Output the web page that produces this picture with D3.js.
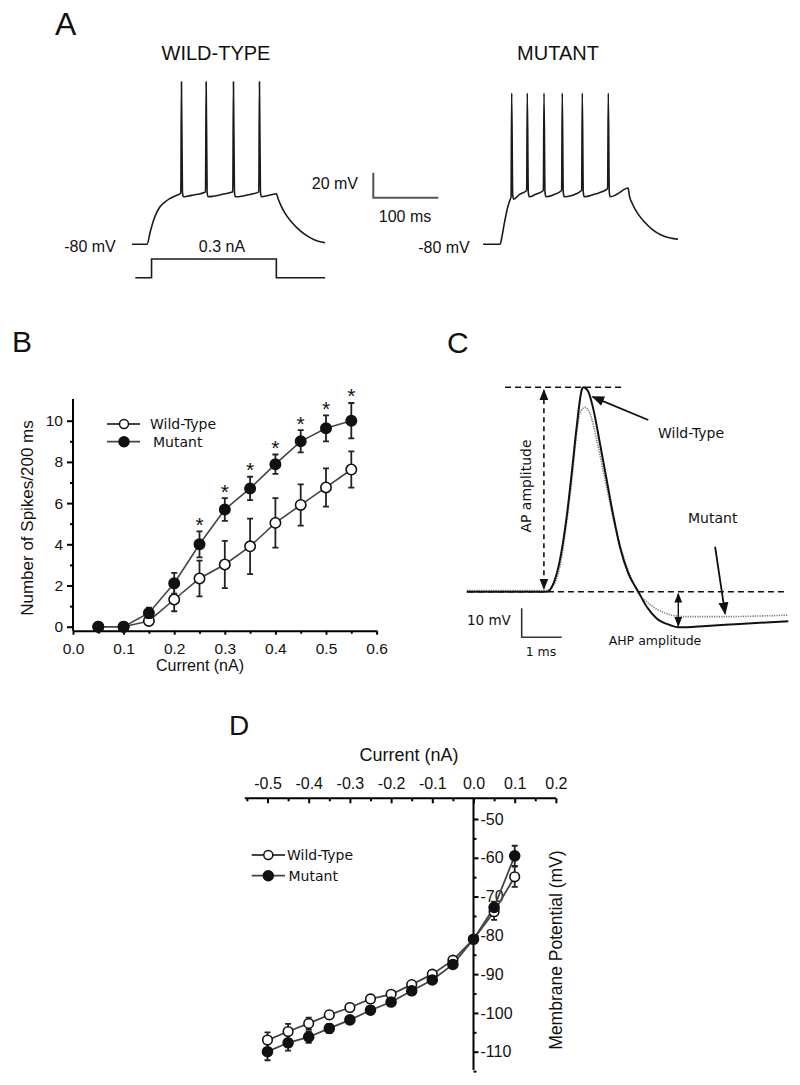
<!DOCTYPE html>
<html><head><meta charset="utf-8">
<script src="https://cdn.jsdelivr.net/npm/d3@7/dist/d3.min.js"></script>
<style>
body{margin:0;background:#fff;}
svg{display:block;}
text{font-family:"Liberation Sans",Arial,Helvetica,sans-serif;fill:#111;}
.tah{font-family:"DejaVu Sans",Verdana,sans-serif;}
</style></head><body>
<svg id="fig" width="800" height="1085" viewBox="0 0 800 1085"></svg>
<script>
// ---------------- DATA ----------------
// Panel A: membrane potential traces [time ms, mV] (step onset = 0 ms)
const wtTrace = [[-23,-80],[0,-80],[5,-70],[10,-61],[15,-54.5],[20,-50],[28,-46],[35,-43.5],[45,-41],[52,-39],
  [53,50],[54.5,-38],[56,-42],[62,-41.5],[72,-40.5],[82,-39.5],[90,-38],
  [91,50],[92.5,-38],[94,-42],[102,-41.5],[116,-40],[132,-38],
  [133,50],[134.5,-38],[136,-42],[146,-41.5],[160,-40],[172,-38],
  [173,50],[174.5,-38],[176,-42],[186,-41],[195,-40],[199,-39.5],
  [202,-44],[207,-50],[214,-56.5],[222,-62],[232,-67.5],[244,-72.5],[258,-76.5],[274,-78.8]];
const mutTrace = [[-26,-80],[0,-80],[3,-74],[6,-65],[9,-57],[12,-50],[15,-45],[17,-42],
  [18,41],[19.5,-40],[21,-44],[30,-40],[41,-37],
  [42,41],[43.5,-38],[45,-42],[55,-40],[66.7,-37],
  [67.7,41],[69.2,-38],[70.7,-42],[82,-40.5],[94.8,-37],
  [95.8,41],[97.3,-38],[98.8,-42],[110,-41],[125.6,-37],
  [126.6,41],[128.1,-38],[129.6,-42],[145,-40],[165.6,-35.5],
  [166.6,41],[168.1,-38],[169.6,-42],[180,-40],[197,-35],
  [199,-41],[204,-48],[212,-55.5],[222,-62],[234,-68],[248,-72.5],[262,-75],[274,-76]];
const stimTime = [-18,7,7,199,199,274];
const stimCurrent = [0,0,0.3,0.3,0,0];

// Panel B: spikes vs current
const currentB = [0.05,0.1,0.15,0.2,0.25,0.3,0.35,0.4,0.45,0.5,0.55];
const wtSpikes = [0,0,0.28,1.32,2.34,3.02,3.9,5.04,5.91,6.76,7.63];
const wtSpikesErr = [0,0,0.12,0.57,0.87,1.15,1.35,1.2,1.0,0.93,0.88];
const mutSpikes = [0,0,0.67,2.11,4.0,5.69,6.71,7.89,9.0,9.63,10.0];
const mutSpikesErr = [0,0,0.25,0.5,0.63,0.55,0.57,0.47,0.54,0.63,0.86];
const significantB = [false,false,false,false,true,true,true,true,true,true,true];
const xTicksB = [0,0.1,0.2,0.3,0.4,0.5,0.6];
const yTicksB = [0,2,4,6,8,10];

// Panel C: single action potentials [time ms, mV relative to threshold]
const wtAP = [[-2,0],[0,0],[0.17,2.9],[0.33,10.9],[0.5,25.9],[0.625,40.8],[0.75,56.9],[0.875,69.5],[0.92,70.5],[0.97,70.2],
  [1.04,69],[1.17,62.7],[1.33,51.2],[1.5,38.5],[1.67,25.9],[1.83,15.5],[2.04,6.3],[2.29,0],[2.5,-5.2],[2.75,-9.2],
  [3.08,-11.5],[3.29,-12.3],[4.0,-11.8],[4.83,-11.1],[6.04,-10.2]];
const mutAP = [[-2,0.4],[0,0.4],[0.2,2.9],[0.35,10],[0.5,24],[0.625,38],[0.75,54.6],[0.83,61.5],[0.96,63.6],[1.08,61.5],
  [1.25,52.3],[1.46,38.5],[1.67,24.7],[1.92,12.1],[2.17,2.9],[2.27,0],[2.5,-3.5],[2.75,-6],[2.95,-7.3],[3.2,-8.3],
  [3.5,-8.6],[4.5,-8.6],[5.5,-8.3],[6.04,-8.1]];

// Panel D: I-V relation
const currentD = [-0.5,-0.45,-0.4,-0.35,-0.3,-0.25,-0.2,-0.15,-0.1,-0.05,0,0.05,0.1];
const wtVm = [-107,-104.8,-102.7,-100.5,-98.6,-96.4,-95.2,-92.7,-90,-86.4,-81,-73.9,-64.9];
const wtVmErr = [2,2,1.5,1,1,1,0.8,0.8,0.8,0.8,0.8,2.1,2.6];
const mutVm = [-110,-107.7,-106.2,-104,-101.8,-99.3,-97.2,-94.3,-91.5,-87.5,-81,-72.8,-59.5];
const mutVmErr = [2.2,2,1.5,1.2,1,1,0.8,0.8,0.8,0.8,0.8,1.5,2.6];
const xTicksD = [-0.5,-0.4,-0.3,-0.2,-0.1,0,0.1,0.2];
const yTicksD = [-50,-60,-70,-80,-90,-100,-110];

// ---------------- DRAW ----------------
const svg = d3.select("#fig");
const defs = svg.append("defs");
function mk(id, color){
  defs.append("marker").attr("id",id).attr("viewBox","0 0 10 10").attr("refX",9).attr("refY",5)
    .attr("markerWidth",7).attr("markerHeight",7).attr("orient","auto-start-reverse")
    .append("path").attr("d","M0,1 L10,5 L0,9 z").attr("fill",color);
}
mk("arr","#111");

function letter(t,x,y,size){ svg.append("text").attr("x",x).attr("y",y).attr("font-size",size).text(t); }
letter("A",55,35,32); letter("B",12,352,30); letter("C",447,353,30); letter("D",229,735,28);

// ===== Panel A =====
const yA = d3.scaleLinear().domain([-80,-60]).range([244.3,219.3]);
const xAwt = d3.scaleLinear().domain([0,100]).range([147,212]);
const xAmut = d3.scaleLinear().domain([0,100]).range([500,565]);
const yStim = d3.scaleLinear().domain([0,0.3]).range([277.7,259]);
const gA = svg.append("g");
function trace(data,xs){
  gA.append("path").attr("d", d3.line().x(d=>xs(d[0])).y(d=>yA(d[1])).curve(d3.curveMonotoneX)(data))
    .attr("fill","none").attr("stroke","#1a1a1a").attr("stroke-width",1.6).attr("stroke-linejoin","round");
}
trace(wtTrace,xAwt); trace(mutTrace,xAmut);
gA.append("path").attr("d", d3.line().x((d,i)=>xAwt(stimTime[i])).y(d=>yStim(d))(stimCurrent))
  .attr("fill","none").attr("stroke","#1a1a1a").attr("stroke-width",1.6);
gA.append("text").attr("x",216).attr("y",60).attr("text-anchor","middle").attr("font-size",20).text("WILD-TYPE");
gA.append("text").attr("x",558).attr("y",60).attr("text-anchor","middle").attr("font-size",20).text("MUTANT");
gA.append("text").attr("x",90).attr("y",252).attr("text-anchor","middle").attr("font-size",16).text("-80 mV");
gA.append("text").attr("x",444).attr("y",253).attr("text-anchor","middle").attr("font-size",16).text("-80 mV");
gA.append("text").attr("x",222).attr("y",252).attr("text-anchor","middle").attr("font-size",16).text("0.3 nA");
// scale bar 20 mV / 100 ms
const sbx = 373.3, sby = 197.7;
gA.append("path").attr("d",`M${sbx},${sby-(yA(-80)-yA(-60))} L${sbx},${sby} L${sbx+(xAwt(100)-xAwt(0))},${sby}`)
  .attr("fill","none").attr("stroke","#555").attr("stroke-width",2);
gA.append("text").attr("x",358).attr("y",189).attr("text-anchor","end").attr("font-size",16).text("20 mV");
gA.append("text").attr("x",405).attr("y",222).attr("text-anchor","middle").attr("font-size",16).text("100 ms");

// ===== Panel B =====
const xB = d3.scaleLinear().domain([0,0.6]).range([73,376.6]);
const yB = d3.scaleLinear().domain([0,10]).range([626.7,420.7]);
const gB = svg.append("g");
const axY = 630.7;
const xAxB = gB.append("g").attr("transform",`translate(0,${axY})`)
  .call(d3.axisBottom(xB).tickValues(xTicksB).tickFormat(d=>d.toFixed(1)).tickSize(4).tickSizeOuter(0).tickPadding(8));
xAxB.selectAll("text").attr("font-size",15.5).attr("font-family","Liberation Sans, Arial");
gB.append("g").attr("transform",`translate(0,${axY})`)
  .call(d3.axisBottom(xB).tickValues(xTicksB.slice(0,-1).map(v=>v+0.05)).tickFormat("").tickSize(3).tickSizeOuter(0))
  .select(".domain").remove();
const yAxB = gB.append("g").attr("transform","translate(73,0)")
  .call(d3.axisLeft(yB).tickValues(yTicksB).tickSize(6).tickPadding(4));
yAxB.select(".domain").remove();
yAxB.selectAll("text").attr("font-size",15.5).attr("font-family","Liberation Sans, Arial");
gB.append("g").attr("transform","translate(73,0)")
  .call(d3.axisLeft(yB).tickValues([1,3,5,7,9]).tickFormat("").tickSize(3)).select(".domain").remove();
gB.append("line").attr("x1",73).attr("x2",73).attr("y1",axY).attr("y2",yB(11.05)).attr("stroke","#000");
gB.selectAll(".domain, .tick line").attr("stroke","#000").attr("stroke-width",2);
gB.selectAll("line").attr("stroke-width",2);
gB.append("text").attr("x",200).attr("y",671).attr("text-anchor","middle").attr("font-size",16).text("Current (nA)");
gB.append("text").attr("transform","translate(33,518) rotate(-90)").attr("text-anchor","middle").attr("font-size",17).text("Number of Spikes/200 ms");

const lineB = (ys)=> d3.line().x((d,i)=>xB(currentB[i])).y(d=>yB(d))(ys);
gB.append("path").attr("d",lineB(wtSpikes)).attr("fill","none").attr("stroke","#444").attr("stroke-width",1.6);
gB.append("path").attr("d",lineB(mutSpikes)).attr("fill","none").attr("stroke","#444").attr("stroke-width",1.6);
function errBars(g,xs,ys,vals,errs,xv,cap){
  vals.forEach((v,i)=>{
    if(errs[i]<=0) return;
    const x=xs(xv[i]), y1=ys(v-errs[i]), y2=ys(v+errs[i]);
    g.append("path").attr("d",`M${x},${y1}L${x},${y2}M${x-cap},${y1}L${x+cap},${y1}M${x-cap},${y2}L${x+cap},${y2}`)
      .attr("stroke","#222").attr("stroke-width",1.8).attr("fill","none");
  });
}
function dots(g,xs,ys,vals,xv,filled,r){
  g.selectAll(null).data(vals).enter().append("circle")
    .attr("cx",(d,i)=>xs(xv[i])).attr("cy",d=>ys(d)).attr("r",r)
    .attr("fill",filled?"#111":"#fff").attr("stroke","#111").attr("stroke-width",1.6);
}
errBars(gB,xB,yB,wtSpikes,wtSpikesErr,currentB,3);
dots(gB,xB,yB,wtSpikes,currentB,false,5.2);
errBars(gB,xB,yB,mutSpikes,mutSpikesErr,currentB,3);
dots(gB,xB,yB,mutSpikes,currentB,true,5.2);
const sigIdx = currentB.map((c,i)=>i).filter(i=>significantB[i]);
gB.selectAll(null).data(sigIdx).enter().append("text")
  .attr("x",k=>xB(currentB[k])).attr("y",k=>yB(mutSpikes[k]+mutSpikesErr[k])+0.5)
  .attr("text-anchor","middle").attr("font-size",21).text("*");
// legend B
[[424,false,"Wild-Type",150],[441.7,true,"Mutant",153]].forEach(([y,f,t,tx])=>{
  gB.append("line").attr("x1",107).attr("x2",140).attr("y1",y).attr("y2",y).attr("stroke","#444").attr("stroke-width",1.8);
  gB.append("circle").attr("cx",124).attr("cy",y).attr("r",f?5:4.5).attr("fill",f?"#111":"#fff").attr("stroke","#111").attr("stroke-width",1.5);
  gB.append("text").attr("class","tah").attr("x",tx).attr("y",y+5).attr("font-size",14).text(t);
});

// ===== Panel C =====
const xC = d3.scaleLinear().domain([0,1]).range([546.7,586.7]);
const yC = d3.scaleLinear().domain([0,10]).range([591.7,562.7]);
const gC = svg.append("g");
const lineC = d3.line().x(d=>xC(d[0])).y(d=>yC(d[1])).curve(d3.curveMonotoneX);
gC.append("path").attr("d",lineC(mutAP)).attr("fill","none").attr("stroke","#777").attr("stroke-width",1.6).attr("stroke-dasharray","1.2,1.2");
gC.append("path").attr("d",lineC(wtAP)).attr("fill","none").attr("stroke","#111").attr("stroke-width",2);
gC.append("line").attr("x1",xC(-1.04)).attr("x2",xC(1.87)).attr("y1",yC(70.5)).attr("y2",yC(70.5))
  .attr("stroke","#111").attr("stroke-width",1.6).attr("stroke-dasharray","6,4");
gC.append("line").attr("x1",xC(-1.97)).attr("x2",xC(5.96)).attr("y1",yC(0)).attr("y2",yC(0))
  .attr("stroke","#111").attr("stroke-width",1.6).attr("stroke-dasharray","6,4");
gC.append("line").attr("x1",xC(-0.07)).attr("x2",xC(-0.07)).attr("y1",yC(69.5)).attr("y2",yC(1))
  .attr("stroke","#111").attr("stroke-width",1.6).attr("stroke-dasharray","5,4")
  .attr("marker-start","url(#arr)").attr("marker-end","url(#arr)");
gC.append("line").attr("x1",xC(3.29)).attr("x2",xC(3.29)).attr("y1",yC(-0.7)).attr("y2",yC(-11.8))
  .attr("stroke","#111").attr("stroke-width",1.4).attr("marker-start","url(#arr)").attr("marker-end","url(#arr)");
gC.append("line").attr("x1",xC(2.54)).attr("y1",yC(59.2)).attr("x2",xC(1.15)).attr("y2",yC(67.2))
  .attr("stroke","#111").attr("stroke-width",1.8).attr("marker-end","url(#arr)");
gC.append("line").attr("x1",xC(4.21)).attr("y1",yC(15.5)).attr("x2",xC(4.46)).attr("y2",yC(-7.6))
  .attr("stroke","#111").attr("stroke-width",1.8).attr("marker-end","url(#arr)");
const cbx = 521.7, cby = 637.3;
gC.append("path").attr("d",`M${cbx},${cby-(yC(0)-yC(10))} L${cbx},${cby} L${cbx+(xC(1)-xC(0))},${cby}`)
  .attr("fill","none").attr("stroke","#333").attr("stroke-width",1.6);
gC.append("text").attr("class","tah").attr("x",467).attr("y",625).attr("font-size",13.5).text("10 mV");
gC.append("text").attr("class","tah").attr("x",541).attr("y",656).attr("text-anchor","middle").attr("font-size",12.5).text("1 ms");
gC.append("text").attr("class","tah").attr("x",655).attr("y",645).attr("text-anchor","middle").attr("font-size",12.5).text("AHP amplitude");
gC.append("text").attr("class","tah").attr("x",658).attr("y",438).attr("font-size",14).text("Wild-Type");
gC.append("text").attr("class","tah").attr("x",688).attr("y",523).attr("font-size",14).text("Mutant");
gC.append("text").attr("class","tah").attr("transform","translate(531,486) rotate(-90)").attr("text-anchor","middle").attr("font-size",14).text("AP amplitude");

// ===== Panel D =====
const xD = d3.scaleLinear().domain([0,0.1]).range([473.5,514.7]);
const yD = d3.scaleLinear().domain([-50,-110]).range([819,1051.7]);
const gD = svg.append("g");
const topY = 798.3;
const xAxD = gD.append("g").attr("transform",`translate(0,${topY})`)
  .call(d3.axisTop(xD).tickValues(xTicksD).tickFormat(d=>(Math.abs(d)<1e-9?0:d).toFixed(1)).tickSize(-5).tickSizeOuter(0).tickPadding(9));
xAxD.select(".domain").remove();
xAxD.selectAll("text").attr("font-size",16).attr("font-family","Liberation Sans, Arial");
gD.append("g").attr("transform",`translate(0,${topY})`)
  .call(d3.axisTop(xD).tickValues([-0.55,-0.45,-0.35,-0.25,-0.15,-0.05,0.05,0.15]).tickFormat("").tickSize(-3).tickSizeOuter(0))
  .select(".domain").remove();
gD.append("line").attr("x1",xD(-0.555)).attr("x2",xD(0.2)).attr("y1",topY).attr("y2",topY);
const yAxD = gD.append("g").attr("transform",`translate(${xD(0)},0)`)
  .call(d3.axisRight(yD).tickValues(yTicksD).tickFormat(d=>String(d)).tickSize(5).tickPadding(2));
yAxD.select(".domain").remove();
yAxD.selectAll("text").attr("font-size",16).attr("font-family","Liberation Sans, Arial");
gD.append("g").attr("transform",`translate(${xD(0)},0)`)
  .call(d3.axisRight(yD).tickValues([-55,-65,-75,-85,-95,-105,-115]).tickFormat("").tickSize(3))
  .select(".domain").remove();
gD.append("line").attr("x1",xD(0)).attr("x2",xD(0)).attr("y1",topY).attr("y2",yD(-114.7));
gD.selectAll("line").attr("stroke","#000").attr("stroke-width",2);
gD.append("text").attr("x",409).attr("y",761).attr("text-anchor","middle").attr("font-size",18).text("Current (nA)");
gD.append("text").attr("transform","translate(562,950) rotate(-90)").attr("text-anchor","middle").attr("font-size",17.5).text("Membrane Potential (mV)");
const lineD = (ys)=> d3.line().x((d,i)=>xD(currentD[i])).y(d=>yD(d))(ys);
errBars(gD,xD,yD,wtVm,wtVmErr,currentD,3);
errBars(gD,xD,yD,mutVm,mutVmErr,currentD,3);
gD.append("path").attr("d",lineD(wtVm)).attr("fill","none").attr("stroke","#444").attr("stroke-width",1.8);
gD.append("path").attr("d",lineD(mutVm)).attr("fill","none").attr("stroke","#444").attr("stroke-width",1.8);
dots(gD,xD,yD,wtVm,currentD,false,4.8);
dots(gD,xD,yD,mutVm,currentD,true,5);
[[855,false,"Wild-Type",287],[875.7,true,"Mutant",288.5]].forEach(([y,f,t,tx])=>{
  gD.append("line").attr("x1",251.7).attr("x2",285).attr("y1",y).attr("y2",y).attr("stroke","#444").attr("stroke-width",1.8);
  gD.append("circle").attr("cx",268.3).attr("cy",y).attr("r",f?5:4.5).attr("fill",f?"#111":"#fff").attr("stroke","#111").attr("stroke-width",1.5);
  gD.append("text").attr("class","tah").attr("x",tx).attr("y",y+5).attr("font-size",14).text(t);
});
</script></body></html>
